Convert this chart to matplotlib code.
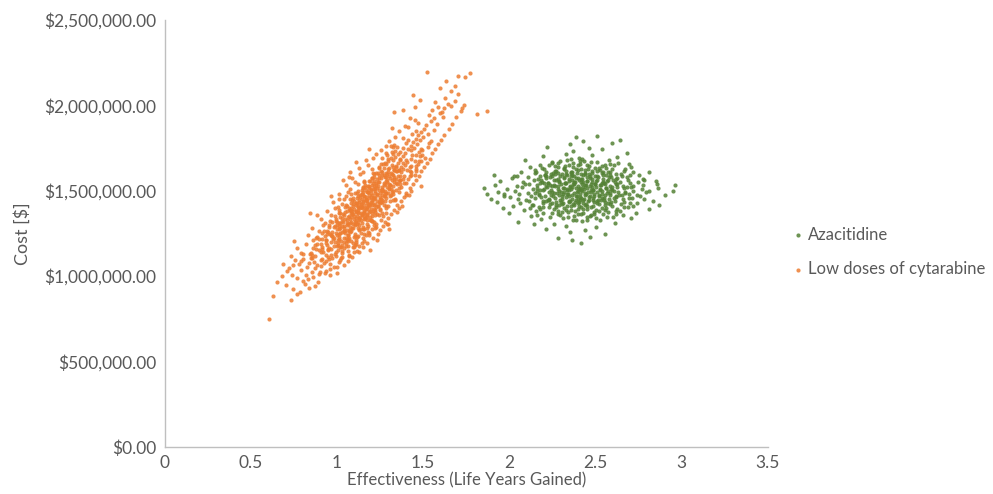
import matplotlib.pyplot as plt
from matplotlib.ticker import FuncFormatter

# Probabilistic sensitivity analysis clouds.
# Each pair = (effectiveness in life years gained, cost in thousand $)
lowdose_pts = [
    (0.603, 752), (0.731, 862), (0.628, 884), (0.768, 893), (0.784, 907), (0.742, 926),
    (0.836, 933), (0.706, 947), (0.812, 955), (0.871, 942), (0.652, 963), (0.803, 974),
    (0.887, 968), (0.768, 987), (0.861, 993), (0.829, 982),
    (0.817, 1004), (0.894, 1013), (0.739, 1009), (0.931, 1017),
    (0.853, 1026), (0.934, 1031), (0.791, 1037), (0.902, 1022),
    (0.957, 1043), (0.828, 1052), (0.906, 1058), (0.873, 1047), (0.997, 1055),
    (0.886, 1066), (0.961, 1071), (0.743, 1063), (0.922, 1078), (0.839, 1075),
    (1.012, 1083), (0.906, 1094), (0.788, 1087), (0.951, 1098), (0.867, 1081), (0.937, 1089),
    (0.968, 1104), (0.873, 1116), (1.024, 1109), (0.912, 1101), (0.993, 1118), (0.851, 1107),
    (0.947, 1113),
    (0.933, 1123), (1.031, 1136), (0.802, 1128), (0.987, 1131), (0.909, 1139), (0.966, 1126),
    (1.069, 1121),
    (0.992, 1142), (0.876, 1157), (1.118, 1149), (0.948, 1153), (1.027, 1146), (0.963, 1159),
    (0.918, 1144), (1.004, 1151),
    (1.042, 1163), (0.913, 1171), (0.981, 1177), (1.097, 1168), (0.858, 1162), (0.999, 1174),
    (0.951, 1166), (1.063, 1179), (1.016, 1172),
    (1.031, 1183), (0.934, 1191), (1.112, 1186), (0.986, 1198), (1.054, 1194), (0.882, 1189),
    (1.007, 1182), (0.967, 1197), (1.143, 1192),
    (1.022, 1204), (0.938, 1211), (1.081, 1207), (0.977, 1218), (1.109, 1213), (1.041, 1201),
    (0.893, 1216), (1.003, 1209), (1.063, 1219), (1.154, 1206), (1.233, 1214),
    (1.043, 1223), (0.971, 1236), (1.098, 1229), (1.012, 1227), (0.928, 1232), (1.187, 1238),
    (1.072, 1221), (0.998, 1239), (1.124, 1234), (1.051, 1226), (0.881, 1231),
    (1.061, 1242), (0.991, 1253), (1.104, 1248), (1.029, 1257), (0.957, 1244), (1.138, 1251),
    (1.073, 1259), (1.012, 1246), (0.912, 1255), (1.166, 1243), (1.047, 1250),
    (1.072, 1263), (1.009, 1274), (1.128, 1268), (0.968, 1261), (1.202, 1277), (1.057, 1271),
    (1.093, 1279), (0.922, 1266), (1.038, 1265), (1.151, 1273), (0.997, 1278), (1.081, 1262),
    (1.088, 1284), (1.027, 1291), (1.153, 1287), (0.987, 1296), (1.121, 1282), (1.056, 1299),
    (0.951, 1288), (1.181, 1293), (1.104, 1297), (1.041, 1283), (1.228, 1290), (1.074, 1286),
    (0.952, 1297), (1.289, 1303),
    (1.094, 1303), (1.032, 1314), (1.171, 1308), (0.998, 1301), (1.121, 1317), (1.066, 1306),
    (1.143, 1311), (0.972, 1319), (1.107, 1304), (1.214, 1315), (1.058, 1312), (1.083, 1318),
    (1.012, 1309),
    (1.112, 1322), (1.049, 1334), (1.191, 1328), (1.077, 1337), (0.993, 1325), (1.141, 1331),
    (1.163, 1339), (1.026, 1321), (1.126, 1336), (1.257, 1327), (1.098, 1333), (1.058, 1329),
    (1.203, 1324),
    (1.127, 1343), (1.068, 1354), (1.192, 1348), (1.038, 1357), (1.161, 1341), (1.097, 1351),
    (1.221, 1359), (1.019, 1346), (1.143, 1355), (1.081, 1344), (1.118, 1352), (1.172, 1358),
    (0.987, 1349), (1.133, 1347),
    (1.142, 1363), (1.081, 1371), (1.201, 1368), (1.048, 1377), (1.171, 1362), (1.109, 1374),
    (1.232, 1366), (1.057, 1379), (1.158, 1372), (1.283, 1369), (1.124, 1376), (1.089, 1364),
    (1.186, 1378), (1.137, 1370), (0.842, 1372),
    (1.158, 1383), (1.098, 1391), (1.218, 1387), (1.069, 1396), (1.191, 1381), (1.127, 1398),
    (1.252, 1389), (1.012, 1385), (1.176, 1394), (1.108, 1382), (1.147, 1397), (1.213, 1392),
    (1.078, 1388), (1.163, 1399),
    (1.171, 1403), (1.112, 1414), (1.239, 1408), (1.083, 1401), (1.203, 1417), (1.139, 1406),
    (1.297, 1412), (1.053, 1419), (1.187, 1409), (1.121, 1404), (1.158, 1416), (1.226, 1402),
    (1.094, 1411), (1.178, 1418),
    (1.186, 1423), (1.128, 1434), (1.248, 1428), (1.099, 1437), (1.219, 1421), (1.152, 1431),
    (1.276, 1439), (1.083, 1426), (1.203, 1433), (1.137, 1422), (1.172, 1438), (1.241, 1435),
    (1.108, 1429), (1.193, 1424),
    (1.201, 1443), (1.143, 1454), (1.262, 1448), (1.113, 1457), (1.232, 1441), (1.169, 1451),
    (1.327, 1446), (1.094, 1459), (1.217, 1453), (1.151, 1442), (1.188, 1456), (1.253, 1449),
    (1.127, 1445), (1.208, 1458), (1.012, 1452),
    (1.217, 1463), (1.159, 1471), (1.277, 1468), (1.131, 1477), (1.249, 1462), (1.183, 1474),
    (1.308, 1466), (1.083, 1479), (1.233, 1472), (1.167, 1464), (1.201, 1476), (1.271, 1469),
    (1.143, 1478), (1.398, 1472),
    (1.231, 1483), (1.173, 1494), (1.298, 1488), (1.142, 1481), (1.262, 1497), (1.197, 1486),
    (1.358, 1491), (1.121, 1499), (1.247, 1484), (1.181, 1492), (1.219, 1498), (1.283, 1487),
    (1.153, 1495),
    (1.243, 1503), (1.186, 1514), (1.311, 1508), (1.149, 1517), (1.276, 1501), (1.213, 1511),
    (1.342, 1506), (1.163, 1519), (1.261, 1512), (1.198, 1504), (1.232, 1516), (1.302, 1509),
    (1.259, 1523), (1.201, 1534), (1.322, 1528), (1.122, 1537), (1.291, 1521), (1.228, 1531),
    (1.347, 1539), (1.178, 1526), (1.274, 1533), (1.214, 1529), (1.309, 1536),
    (1.273, 1543), (1.213, 1554), (1.331, 1548), (1.184, 1557), (1.304, 1541), (1.242, 1551),
    (1.387, 1546), (1.193, 1559), (1.291, 1552), (1.229, 1544), (1.361, 1556),
    (1.288, 1563), (1.231, 1571), (1.342, 1568), (1.203, 1577), (1.319, 1562), (1.257, 1574),
    (1.413, 1566), (1.276, 1579), (1.308, 1572), (1.368, 1565), (1.071, 1582),
    (1.302, 1583), (1.243, 1594), (1.353, 1588), (1.213, 1597), (1.331, 1581), (1.271, 1591),
    (1.391, 1586), (1.318, 1598), (1.262, 1589),
    (1.313, 1603), (1.254, 1614), (1.369, 1608), (1.224, 1601), (1.343, 1617), (1.282, 1606),
    (1.432, 1611), (1.328, 1619), (1.298, 1612), (1.074, 1612), (1.457, 1618),
    (1.328, 1623), (1.271, 1634), (1.382, 1628), (1.241, 1637), (1.359, 1621), (1.302, 1631),
    (1.458, 1626), (1.344, 1638),
    (1.341, 1643), (1.282, 1654), (1.393, 1648), (1.268, 1657), (1.371, 1641), (1.318, 1651),
    (1.428, 1646),
    (1.353, 1663), (1.293, 1674), (1.409, 1668), (1.322, 1677), (1.384, 1661), (1.478, 1671),
    (1.368, 1679),
    (1.368, 1683), (1.312, 1691), (1.427, 1688), (1.339, 1697), (1.398, 1681), (1.508, 1694),
    (1.382, 1703), (1.323, 1714), (1.433, 1708), (1.352, 1717), (1.458, 1711), (1.291, 1706),
    (1.397, 1723), (1.338, 1734), (1.477, 1728), (1.428, 1737), (1.368, 1726),
    (1.412, 1743), (1.351, 1754), (1.448, 1748), (1.528, 1757), (1.383, 1751),
    (1.427, 1763), (1.462, 1774), (1.332, 1768), (1.398, 1777),
    (1.442, 1783), (1.479, 1794), (1.548, 1788), (1.413, 1797),
    (1.458, 1803), (1.497, 1814), (1.381, 1808),
    (1.472, 1823), (1.531, 1834), (1.437, 1829),
    (1.487, 1843), (1.562, 1856), (1.458, 1851),
    (1.502, 1863), (1.412, 1872), (1.517, 1884), (1.583, 1893), (1.468, 1897),
    (1.546, 1906), (1.452, 1914), (1.561, 1925), (1.618, 1933), (1.532, 1944), (1.597, 1957),
    (1.612, 1962), (1.718, 1966), (1.553, 1973), (1.868, 1968), (1.621, 1984), (1.589, 1992),
    (1.662, 1997), (1.642, 2006), (1.571, 2018), (1.683, 2027), (1.624, 2041), (1.703, 2063),
    (1.661, 2082), (1.598, 2098), (1.682, 2113), (1.632, 2142), (1.703, 2171), (1.741, 2168),
    (1.772, 2186), (1.522, 2197), (1.44, 2058), (1.33, 1962), (1.81, 1948), (1.74, 2003),
    (1.48, 2031),
    # outer halo of the band
    (0.712, 1032), (0.998, 1018), (0.687, 1071), (1.041, 1064), (0.758, 1093), (1.062, 1089),
    (0.731, 1118), (1.087, 1112), (0.792, 1137), (1.128, 1144), (0.768, 1163), (1.152, 1171),
    (0.819, 1188), (1.171, 1196), (0.752, 1204), (1.193, 1152), (0.843, 1127), (1.106, 1185),
    (0.861, 1213), (1.209, 1224), (0.829, 1238), (1.236, 1245), (0.894, 1262), (1.251, 1268),
    (0.856, 1283), (1.268, 1291), (0.918, 1297), (1.187, 1255), (0.877, 1226), (1.223, 1281),
    (0.942, 1249), (1.301, 1274), (0.932, 1309), (1.276, 1318), (0.908, 1334), (1.298, 1342),
    (0.967, 1358), (1.312, 1366), (0.941, 1381), (1.331, 1389), (0.989, 1396), (1.268, 1352),
    (0.958, 1322), (1.348, 1377), (1.011, 1368), (1.294, 1304), (0.883, 1357), (1.359, 1398),
    (1.004, 1407), (1.351, 1416), (0.979, 1431), (1.372, 1438), (1.038, 1452), (1.389, 1461),
    (1.011, 1478), (1.403, 1486), (1.061, 1493), (1.337, 1447), (1.029, 1423), (1.418, 1472),
    (0.962, 1466), (1.378, 1409), (1.052, 1469), (1.432, 1497), (1.078, 1507), (1.421, 1514),
    (1.051, 1532), (1.442, 1538), (1.107, 1553), (1.459, 1561), (1.088, 1577), (1.476, 1584),
    (1.131, 1596), (1.403, 1546), (1.032, 1562), (1.488, 1529), (1.148, 1521), (1.452, 1592),
    (1.152, 1608), (1.487, 1617), (1.128, 1632), (1.503, 1641), (1.181, 1653), (1.521, 1664),
    (1.168, 1678), (1.538, 1686), (1.211, 1694), (1.472, 1659), (1.109, 1667), (1.228, 1712),
    (1.552, 1719), (1.257, 1738), (1.571, 1746), (1.283, 1763), (1.589, 1771), (1.302, 1789),
    (1.603, 1796), (1.188, 1742), (1.338, 1815), (1.621, 1823), (1.362, 1847), (1.648, 1858),
    (1.397, 1881), (1.667, 1889), (1.318, 1868), (1.421, 1927), (1.689, 1934), (1.383, 1974),
    (1.728, 1981), (1.452, 1988),
    # between core and halo
    (0.856, 1105), (1.067, 1118), (0.849, 1133), (1.062, 1147), (0.914, 1161), (1.126, 1174),
    (0.907, 1188), (1.111, 1201), (0.913, 1216), (1.114, 1229), (0.963, 1241), (1.177, 1256),
    (0.939, 1267), (1.174, 1279), (1.014, 1292), (1.226, 1304), (0.997, 1317), (1.196, 1329),
    (1.029, 1343), (1.245, 1356), (1.018, 1368), (1.219, 1377), (1.075, 1388), (1.285, 1397),
    (1.059, 1409), (1.270, 1418), (1.115, 1426), (1.307, 1438), (1.074, 1449), (1.286, 1459),
    (1.123, 1467), (1.327, 1478), (1.113, 1488), (1.323, 1497), (1.169, 1506), (1.371, 1519),
    (1.160, 1531), (1.343, 1543), (1.157, 1556), (1.384, 1568), (1.214, 1581), (1.430, 1593),
    (1.209, 1606), (1.404, 1619), (1.242, 1633), (1.456, 1647), (1.280, 1662), (1.455, 1676),
    (1.260, 1693), (1.491, 1708), (1.318, 1724), (1.486, 1741), (1.315, 1759), (1.534, 1778),
    (1.028, 1112), (0.854, 1126), (1.099, 1139), (0.897, 1153), (1.093, 1168), (0.874, 1181),
    (1.094, 1194), (0.934, 1209), (1.149, 1222), (0.970, 1235), (1.157, 1248), (0.947, 1261),
    (1.159, 1273), (0.983, 1286), (1.212, 1298), (1.019, 1311), (1.203, 1323), (0.992, 1336),
    (1.205, 1349), (1.033, 1361), (1.261, 1372), (1.082, 1383), (1.247, 1392), (1.044, 1403),
    (1.282, 1413), (1.092, 1422), (1.262, 1433), (1.089, 1444), (1.334, 1454), (1.134, 1463),
    (1.316, 1473), (1.105, 1484), (1.317, 1493), (1.144, 1502), (1.360, 1514), (1.184, 1526),
    (1.367, 1538), (1.159, 1551), (1.363, 1563), (1.202, 1576), (1.421, 1588), (1.238, 1601),
    (1.426, 1614), (1.205, 1628), (1.426, 1641), (1.254, 1656), (1.486, 1671), (1.296, 1687),
    (1.480, 1702), (1.287, 1719), (1.493, 1736), (1.327, 1753),
    (0.683, 1002), (0.958, 1008), (0.722, 1045), (0.985, 1052), (0.781, 1072), (1.018, 1096),
    (0.804, 1103),
    # extra points in the dense core
    (0.948, 1158), (1.054, 1177), (1.005, 1191), (1.056, 1214), (0.981, 1226), (1.062, 1243),
    (1.040, 1262), (1.134, 1274), (1.041, 1293), (1.115, 1306), (1.102, 1318), (1.159, 1332),
    (1.063, 1345), (1.154, 1353), (1.122, 1367), (1.207, 1379), (1.119, 1386), (1.168, 1395),
    (1.119, 1408), (1.212, 1416), (1.171, 1427), (1.254, 1436), (1.168, 1444), (1.222, 1457),
    (1.157, 1468), (1.259, 1473), (1.221, 1485), (1.264, 1496), (1.197, 1509), (1.304, 1518),
    (1.236, 1527), (1.276, 1541), (1.237, 1553), (1.332, 1566), (1.284, 1578), (1.327, 1592),
    (1.262, 1607), (1.357, 1621), (1.322, 1638),
    (1.023, 1168), (0.943, 1183), (1.062, 1203), (1.011, 1219), (1.104, 1237), (1.019, 1251),
    (1.073, 1268), (1.019, 1281), (1.127, 1298), (1.075, 1313), (1.174, 1327), (1.112, 1339),
    (1.175, 1348), (1.094, 1362), (1.159, 1373), (1.085, 1381), (1.198, 1392), (1.146, 1403),
    (1.240, 1412), (1.137, 1421), (1.198, 1433), (1.168, 1447), (1.251, 1452), (1.199, 1463),
    (1.280, 1479), (1.181, 1491), (1.259, 1502), (1.220, 1514), (1.306, 1532), (1.210, 1546),
    (1.283, 1559), (1.246, 1572), (1.363, 1587), (1.292, 1598), (1.348, 1614), (1.297, 1629),
]

azacitidine_pts = [
    (2.418, 1192), (2.367, 1211), (2.281, 1223), (2.468, 1229), (2.354, 1259), (2.557, 1247),
    (2.213, 1274), (2.439, 1268), (2.328, 1292), (2.506, 1286), (2.143, 1303),
    (2.052, 1318), (2.261, 1307), (2.422, 1322), (2.615, 1313),
    (2.187, 1337), (2.371, 1326), (2.449, 1344), (2.528, 1331), (2.707, 1340),
    (2.126, 1353), (2.284, 1361), (2.343, 1348), (2.397, 1364), (2.477, 1355), (2.569, 1346),
    (2.662, 1359),
    (1.998, 1372), (2.154, 1381), (2.247, 1367), (2.306, 1376), (2.384, 1384), (2.431, 1369),
    (2.493, 1378), (2.547, 1365), (2.618, 1383), (2.734, 1371),
    (1.961, 1398), (2.088, 1388), (2.197, 1402), (2.262, 1391), (2.319, 1396), (2.358, 1385),
    (2.416, 1403), (2.452, 1393), (2.501, 1387), (2.563, 1400), (2.627, 1390), (2.689, 1404),
    (2.812, 1394),
    (2.021, 1411), (2.134, 1419), (2.173, 1406), (2.239, 1423), (2.287, 1414), (2.333, 1408),
    (2.371, 1421), (2.403, 1412), (2.437, 1417), (2.474, 1407), (2.519, 1424), (2.556, 1415),
    (2.594, 1409), (2.651, 1420), (2.716, 1413), (2.867, 1418),
    (1.926, 1433), (2.064, 1427), (2.116, 1441), (2.193, 1430), (2.226, 1444), (2.271, 1435),
    (2.312, 1426), (2.346, 1439), (2.382, 1431), (2.409, 1443), (2.427, 1428), (2.458, 1437),
    (2.493, 1432), (2.532, 1445), (2.571, 1429), (2.613, 1438), (2.668, 1434), (2.742, 1426),
    (2.833, 1442),
    (1.893, 1452), (2.003, 1461), (2.097, 1447), (2.148, 1456), (2.186, 1464), (2.233, 1450),
    (2.268, 1458), (2.297, 1446), (2.327, 1462), (2.362, 1453), (2.388, 1448), (2.414, 1459),
    (2.436, 1451), (2.462, 1465), (2.489, 1455), (2.517, 1447), (2.548, 1460), (2.581, 1452),
    (2.622, 1463), (2.659, 1449), (2.713, 1457), (2.784, 1454),
    (1.872, 1478), (1.968, 1467), (2.057, 1483), (2.124, 1471), (2.171, 1480), (2.207, 1466),
    (2.243, 1476), (2.276, 1484), (2.304, 1469), (2.338, 1479), (2.366, 1472), (2.392, 1466),
    (2.411, 1482), (2.441, 1474), (2.468, 1468), (2.492, 1481), (2.523, 1470), (2.553, 1477),
    (2.586, 1485), (2.618, 1467), (2.657, 1475), (2.698, 1482), (2.761, 1471), (2.907, 1477),
    (1.937, 1493), (2.031, 1501), (2.108, 1488), (2.159, 1497), (2.194, 1505), (2.229, 1491),
    (2.259, 1486), (2.291, 1499), (2.318, 1494), (2.344, 1503), (2.373, 1489), (2.398, 1496),
    (2.419, 1502), (2.437, 1487), (2.459, 1495), (2.484, 1504), (2.511, 1490), (2.538, 1498),
    (2.566, 1486), (2.597, 1502), (2.631, 1493), (2.672, 1488), (2.719, 1500), (2.793, 1494),
    (2.953, 1497),
    (1.852, 1517), (1.989, 1509), (2.073, 1522), (2.138, 1512), (2.181, 1506), (2.217, 1519),
    (2.251, 1525), (2.283, 1510), (2.313, 1516), (2.337, 1507), (2.362, 1523), (2.387, 1513),
    (2.404, 1508), (2.428, 1521), (2.451, 1514), (2.476, 1506), (2.502, 1524), (2.527, 1511),
    (2.559, 1518), (2.591, 1508), (2.628, 1522), (2.664, 1513), (2.708, 1519), (2.768, 1507),
    (2.866, 1515),
    (1.917, 1536), (2.042, 1528), (2.112, 1541), (2.163, 1531), (2.202, 1545), (2.236, 1533),
    (2.268, 1527), (2.299, 1539), (2.326, 1544), (2.351, 1530), (2.378, 1537), (2.401, 1526),
    (2.422, 1542), (2.446, 1534), (2.471, 1529), (2.498, 1540), (2.524, 1532), (2.552, 1545),
    (2.583, 1527), (2.619, 1538), (2.658, 1530), (2.703, 1543), (2.774, 1535), (2.962, 1531),
    (1.947, 1556), (2.081, 1549), (2.146, 1561), (2.189, 1552), (2.224, 1547), (2.258, 1563),
    (2.289, 1554), (2.321, 1546), (2.348, 1559), (2.376, 1551), (2.403, 1565), (2.427, 1548),
    (2.453, 1557), (2.479, 1550), (2.507, 1562), (2.536, 1546), (2.568, 1555), (2.604, 1560),
    (2.641, 1549), (2.689, 1564), (2.747, 1553), (2.851, 1558),
    (2.013, 1572), (2.109, 1581), (2.168, 1568), (2.213, 1577), (2.249, 1585), (2.284, 1570),
    (2.317, 1579), (2.346, 1566), (2.374, 1583), (2.399, 1574), (2.423, 1567), (2.449, 1580),
    (2.478, 1571), (2.509, 1584), (2.543, 1569), (2.579, 1578), (2.624, 1573), (2.683, 1582),
    (2.776, 1569),
    (1.912, 1594), (2.047, 1588), (2.151, 1601), (2.207, 1592), (2.253, 1605), (2.293, 1587),
    (2.331, 1598), (2.364, 1591), (2.396, 1603), (2.427, 1589), (2.461, 1596), (2.497, 1586),
    (2.538, 1602), (2.586, 1593), (2.646, 1599), (2.752, 1590),
    (2.068, 1612), (2.149, 1621), (2.214, 1607), (2.269, 1617), (2.318, 1624), (2.358, 1610),
    (2.398, 1619), (2.441, 1606), (2.482, 1615), (2.527, 1622), (2.583, 1611), (2.667, 1618),
    (2.809, 1609),
    (2.118, 1637), (2.203, 1628), (2.264, 1643), (2.319, 1632), (2.371, 1639), (2.416, 1626),
    (2.463, 1644), (2.521, 1634), (2.597, 1629), (2.704, 1641),
    (2.178, 1652), (2.281, 1661), (2.349, 1648), (2.408, 1657), (2.472, 1665), (2.556, 1651),
    (2.694, 1659),
    (2.091, 1678), (2.247, 1669), (2.361, 1683), (2.436, 1672), (2.582, 1677),
    (2.196, 1701), (2.403, 1689), (2.627, 1696), (2.327, 1716), (2.479, 1709), (2.684, 1722),
    (2.372, 1733), (2.538, 1741), (2.217, 1757), (2.461, 1751), (2.354, 1774), (2.598, 1779),
    (2.428, 1792), (2.641, 1798), (2.386, 1813), (2.508, 1819),
    # extra points in the dense core
    (2.352, 1441), (2.478, 1523), (2.291, 1476), (2.536, 1458), (2.418, 1552), (2.203, 1508),
    (2.611, 1497), (2.337, 1589), (2.449, 1412), (2.262, 1534), (2.571, 1563), (2.386, 1468),
    (2.507, 1441), (2.148, 1489), (2.683, 1521), (2.423, 1499), (2.318, 1518), (2.467, 1586),
    (2.231, 1447), (2.592, 1431), (2.372, 1537), (2.528, 1504), (2.186, 1563), (2.639, 1476),
    (2.401, 1429), (2.284, 1602), (2.558, 1541), (2.342, 1481), (2.493, 1467), (2.247, 1492),
    (2.612, 1552), (2.437, 1531), (2.309, 1453), (2.547, 1612), (2.389, 1574), (2.213, 1526),
    (2.672, 1491), (2.462, 1448), (2.356, 1507), (2.518, 1582), (2.271, 1563), (2.583, 1472),
    (2.412, 1463), (2.329, 1547), (2.496, 1538), (2.172, 1472), (2.721, 1529), (2.441, 1597),
    (2.298, 1491), (2.563, 1513), (2.377, 1418), (2.486, 1502), (2.238, 1578), (2.626, 1538),
    (2.347, 1469), (2.453, 1559), (2.271, 1417), (2.539, 1482), (2.408, 1518), (2.193, 1439),
    (2.654, 1588), (2.364, 1611), (2.511, 1427), (2.316, 1572), (2.472, 1493), (2.226, 1543),
    (2.597, 1519), (2.428, 1443), (2.283, 1527), (2.551, 1447), (2.392, 1492), (2.506, 1558),
    (2.161, 1517), (2.698, 1458), (2.337, 1503), (2.459, 1624), (2.254, 1468), (2.621, 1567),
    (2.383, 1548), (2.532, 1532), (2.302, 1436), (2.447, 1479), (2.209, 1591), (2.576, 1501),
    (2.419, 1571), (2.289, 1551), (2.487, 1443), (2.352, 1524), (2.563, 1589), (2.243, 1506),
    (2.434, 1512), (2.314, 1483), (2.523, 1473), (2.398, 1451), (2.473, 1541), (2.266, 1597),
    (2.607, 1457), (2.364, 1561), (2.542, 1553), (2.181, 1547),
    # lower and upper parts of the ellipse
    (2.312, 1338), (2.468, 1352), (2.197, 1371), (2.553, 1389), (2.389, 1327), (2.274, 1402),
    (2.621, 1361), (2.431, 1394), (2.138, 1417), (2.502, 1343), (2.343, 1376), (2.584, 1422),
    (2.236, 1348), (2.407, 1436), (2.667, 1402), (2.296, 1359), (2.519, 1379), (2.178, 1392),
    (2.453, 1331), (2.361, 1413), (2.601, 1347), (2.251, 1428), (2.488, 1408), (2.329, 1387),
    (2.553, 1433), (2.416, 1364), (2.214, 1441), (2.702, 1428), (2.377, 1349), (2.536, 1396),
    (2.283, 1381), (2.443, 1421), (2.162, 1359), (2.641, 1383), (2.348, 1432), (2.494, 1366),
    (2.229, 1407), (2.571, 1373), (2.401, 1392), (2.307, 1423),
    (2.327, 1617), (2.481, 1603), (2.216, 1588), (2.562, 1631), (2.398, 1652), (2.283, 1641),
    (2.618, 1598), (2.439, 1622), (2.157, 1611), (2.512, 1667), (2.356, 1583), (2.593, 1578),
    (2.249, 1663), (2.421, 1684), (2.674, 1626), (2.309, 1596), (2.538, 1642), (2.191, 1634),
    (2.467, 1576), (2.372, 1662), (2.611, 1653), (2.263, 1617), (2.496, 1631), (2.338, 1681),
    (2.571, 1609), (2.414, 1597), (2.228, 1652), (2.703, 1594), (2.387, 1627), (2.547, 1591),
    (2.292, 1673), (2.451, 1648), (2.176, 1584), (2.634, 1664), (2.359, 1604), (2.507, 1613),
    (2.244, 1598), (2.583, 1656), (2.408, 1673), (2.321, 1644),
    (2.05, 1452), (2.78, 1562), (2.09, 1538), (2.74, 1473), (2.03, 1583), (2.81, 1497),
    (1.97, 1478), (2.86, 1541), (2.12, 1398), (2.72, 1612),
]

SERIES = ["Azacitidine", "Low doses of cytarabine"]
COLORS = ["#548235", "#ED7D31"]
GRAY = "#595959"

plt.rcParams["font.family"] = ["Lato", "DejaVu Sans"]

fig = plt.figure(figsize=(9.93, 4.94), dpi=100)
ax = fig.add_axes([0.166, 0.095, 0.607, 0.865])

for name, col, pts in zip(SERIES, COLORS, [azacitidine_pts, lowdose_pts]):
    xs = [p[0] for p in pts]
    ys = [p[1] * 1000 for p in pts]
    ax.scatter(xs, ys, s=9, color=col, linewidths=0, label=name, alpha=0.85)

ax.set_xlim(0, 3.5)
ax.set_ylim(0, 2500000)
ax.set_xticks([0, 0.5, 1, 1.5, 2, 2.5, 3, 3.5])
ax.set_xticklabels(["0", "0.5", "1", "1.5", "2", "2.5", "3", "3.5"])
ax.set_yticks(range(0, 2500001, 500000))
ax.yaxis.set_major_formatter(FuncFormatter(lambda v, _: f"${v:,.2f}"))
ax.tick_params(length=0, labelsize=12.5, colors=GRAY, pad=6)
for s in ["top", "right"]:
    ax.spines[s].set_visible(False)
for s in ["left", "bottom"]:
    ax.spines[s].set_color("#bfbfbf")
    ax.spines[s].set_linewidth(1.0)

ax.set_xlabel("Effectiveness (Life Years Gained)", fontsize=12, color=GRAY, labelpad=1)
ax.set_ylabel("Cost [$]", fontsize=13, color=GRAY, labelpad=10)

fig.legend(loc="center left", bbox_to_anchor=(0.78, 0.49), frameon=False,
           fontsize=12, labelcolor=GRAY, markerscale=1.0, handletextpad=0.1,
           labelspacing=1.1, handlelength=1.0)

fig.savefig("out.png", dpi=100)
